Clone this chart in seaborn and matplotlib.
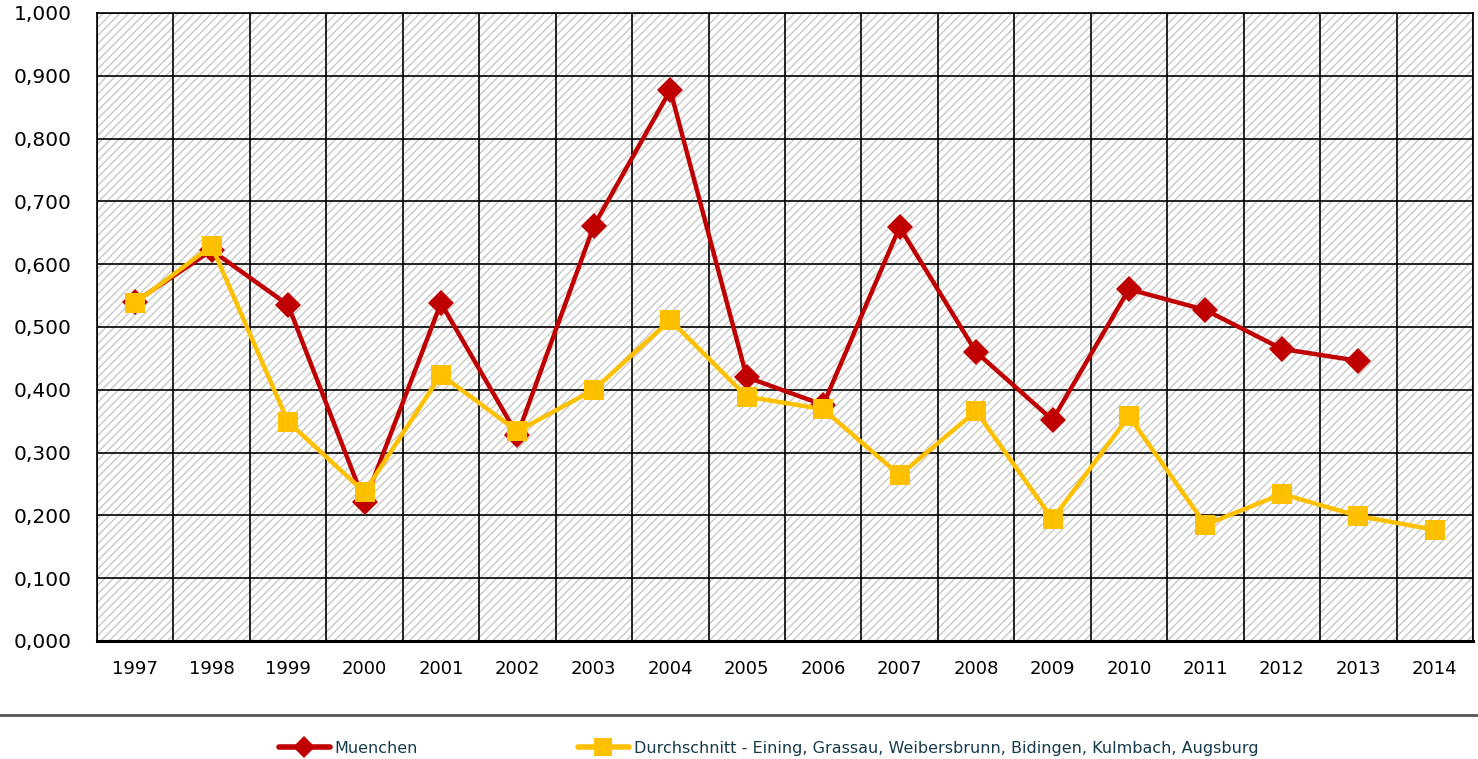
import matplotlib
matplotlib.use('Agg')
import matplotlib.pyplot as plt
import seaborn as sns
import pandas as pd
from matplotlib.patches import Rectangle
from matplotlib.lines import Line2D
from matplotlib.ticker import FixedLocator, FuncFormatter

years = [str(y) for y in range(1997, 2015)]
muenchen = [0.540, 0.622, 0.535, 0.221, 0.538, 0.328, 0.661, 0.877, 0.420,
            0.376, 0.659, 0.460, 0.352, 0.560, 0.527, 0.465, 0.446, None]
durchschnitt = [0.538, 0.629, 0.349, 0.237, 0.424, 0.334, 0.400, 0.511, 0.389,
                0.369, 0.264, 0.366, 0.194, 0.358, 0.185, 0.234, 0.199, 0.177]
labels = ["Muenchen",
          "Durchschnitt - Eining, Grassau, Weibersbrunn, Bidingen, Kulmbach, Augsburg"]
colors = ["#C00000", "#FFC000"]
markers = ["D", "s"]

sns.set_style("white")
plt.rcParams['font.family'] = ['DejaVu Sans']
plt.rcParams['hatch.linewidth'] = 1.0

df = pd.DataFrame({"year": years, labels[0]: muenchen, labels[1]: durchschnitt})
long = df.melt(id_vars="year", var_name="serie", value_name="wert").dropna()

fig = plt.figure(figsize=(14.78, 7.59), dpi=100)
ax = fig.add_axes([0.0656, 0.1555, 0.931, 0.8275])

# hatched background
ax.add_patch(Rectangle((0, 0), 1, 1, transform=ax.transAxes, facecolor='white',
                       edgecolor='#c8c8c8', linewidth=0, hatch='////', zorder=0.5))

sns.lineplot(data=long, x="year", y="wert", hue="serie", style="serie",
             palette=dict(zip(labels, colors)), markers=dict(zip(labels, markers)),
             dashes=False, linewidth=3.2, markersize=14, markeredgewidth=0,
             sort=False, ax=ax, zorder=3, legend=False)
for line, ms in zip(ax.lines, [13, 15]):
    line.set_markersize(ms)

ax.set_xlim(-0.5, len(years) - 0.5)
ax.set_ylim(0, 1.0)
ax.set_yticks([i / 10 for i in range(11)])
ax.yaxis.set_major_formatter(FuncFormatter(lambda v, p: f"{v:.3f}".replace('.', ',')))
ax.xaxis.set_minor_locator(FixedLocator([i - 0.5 for i in range(len(years) + 1)]))
ax.tick_params(axis='x', which='major', length=0, pad=14, labelsize=13, labelcolor='black')
ax.tick_params(axis='x', which='minor', length=6, width=2, direction='out', color='black')
ax.tick_params(axis='y', length=0, pad=18, labelsize=14.5, labelcolor='black')
ax.grid(True, axis='y', which='major', color='black', linewidth=1.2, zorder=1)
ax.grid(True, axis='x', which='minor', color='black', linewidth=1.2, zorder=1)
ax.grid(False, axis='x', which='major')
ax.set_axisbelow(True)
for side in ['top', 'right', 'left']:
    ax.spines[side].set_visible(True)
    ax.spines[side].set_color('black')
    ax.spines[side].set_linewidth(1.2)
ax.spines['bottom'].set_linewidth(2.2)
ax.spines['bottom'].set_color('black')
ax.set_xlabel("")
ax.set_ylabel("")

fig.add_artist(Line2D([0, 1], [0.058, 0.058], transform=fig.transFigure,
                      color='#555555', linewidth=2))

handles = [Line2D([], [], color=c, marker=m, linewidth=4, markersize=ms, markeredgewidth=0)
           for c, m, ms in zip(colors, markers, [11, 13])]
leg = fig.legend(handles, labels, loc='center', bbox_to_anchor=(0.52, 0.014), ncol=2,
                 frameon=False, handlelength=3.2, columnspacing=10,
                 handletextpad=0.3, prop={'family': ['DejaVu Sans'], 'size': 11.5})
for t in leg.get_texts():
    t.set_color('#163a4c')

fig.savefig("out.png", dpi=100)
